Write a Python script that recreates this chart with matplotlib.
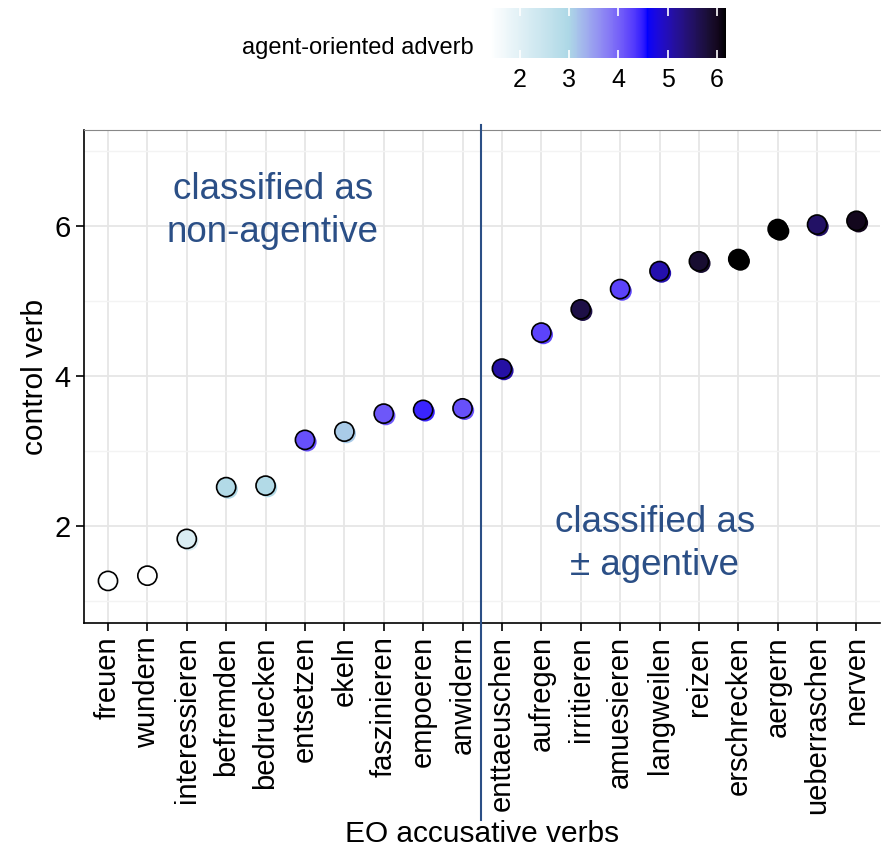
import matplotlib
matplotlib.use("Agg")
import matplotlib.pyplot as plt
import matplotlib.transforms as mtransforms
from matplotlib.colors import ListedColormap, Normalize, to_rgb
import numpy as np

plt.rcParams['font.family'] = ['Liberation Sans', 'DejaVu Sans']

verbs = ["freuen", "wundern", "interessieren", "befremden", "bedruecken",
         "entsetzen", "ekeln", "faszinieren", "empoeren", "anwidern",
         "enttaeuschen", "aufregen", "irritieren", "amuesieren", "langweilen",
         "reizen", "erschrecken", "aergern", "ueberraschen", "nerven"]
control = [1.27, 1.34, 1.83, 2.52, 2.54, 3.15, 3.26, 3.50, 3.55, 3.57,
           4.10, 4.58, 4.89, 5.16, 5.40, 5.53, 5.56, 5.96, 6.02, 6.07]
adverb = [1.45, 1.39, 2.15, 2.90, 2.90, 4.15, 3.10, 4.10, 4.45, 4.15,
          5.10, 4.25, 5.70, 4.25, 5.05, 5.85, 6.18, 6.18, 5.50, 6.00]

ramp = ["white", "lightblue", "blue", "black"]


# ggplot-like gradient: interpolate in CIELAB
def to_lab(c):
    rgb = np.array(to_rgb(c))
    lin = np.where(rgb <= 0.04045, rgb / 12.92, ((rgb + 0.055) / 1.055) ** 2.4)
    m = np.array([[0.4124, 0.3576, 0.1805],
                  [0.2126, 0.7152, 0.0722],
                  [0.0193, 0.1192, 0.9505]])
    xyz = m @ lin / np.array([0.95047, 1.0, 1.08883])
    f = np.where(xyz > 0.008856, np.cbrt(xyz), 7.787 * xyz + 16 / 116)
    return np.array([116 * f[1] - 16, 500 * (f[0] - f[1]), 200 * (f[1] - f[2])])


def from_lab(lab):
    fy = (lab[0] + 16) / 116
    fx = fy + lab[1] / 500
    fz = fy - lab[2] / 200
    f = np.array([fx, fy, fz])
    xyz = np.where(f ** 3 > 0.008856, f ** 3, (f - 16 / 116) / 7.787)
    xyz = xyz * np.array([0.95047, 1.0, 1.08883])
    minv = np.array([[3.2406, -1.5372, -0.4986],
                     [-0.9689, 1.8758, 0.0415],
                     [0.0557, -0.2040, 1.0570]])
    lin = minv @ xyz
    lin = np.clip(lin, 0, 1)
    rgb = np.where(lin <= 0.0031308, 12.92 * lin, 1.055 * lin ** (1 / 2.4) - 0.055)
    return np.clip(rgb, 0, 1)


labs = [to_lab(c) for c in ramp]
cols = []
for t in np.linspace(0, 1, 256):
    seg = min(int(t * 3), 2)
    u = t * 3 - seg
    cols.append(from_lab(labs[seg] * (1 - u) + labs[seg + 1] * u))
cmap = ListedColormap(cols)
norm = Normalize(vmin=min(adverb), vmax=max(adverb))

fig = plt.figure(figsize=(8.81, 8.51), dpi=100)
ax = fig.add_axes([0.0953, 0.268, 0.9037, 0.5792])

x = np.arange(len(verbs))
colors = cmap(norm(adverb))

# coloured shadow beneath each point
shadow = ax.transData + mtransforms.ScaledTranslation(1.5 / 72, -1.5 / 72, fig.dpi_scale_trans)
ax.scatter(x, control, s=190, c=colors, edgecolors='none', transform=shadow, zorder=3)
sc = ax.scatter(x, control, s=190, c=adverb, cmap=cmap, norm=norm,
                edgecolors='black', linewidths=1.2, zorder=4)

ax.set_xlim(-0.61, 19.6)
ax.set_ylim(0.71, 7.28)
ax.set_yticks([2, 4, 6])
ax.set_yticks([1, 3, 5, 7], minor=True)
ax.set_xticks(x)
ax.set_xticklabels(verbs, rotation=90)
ax.tick_params(axis='both', labelsize=21, length=6, width=1.2, color='black')
ax.tick_params(axis='y', which='minor', length=0)
ax.grid(True, which='major', color='#e6e6e6', lw=1.3)
ax.grid(True, which='minor', axis='y', color='#f3f3f3', lw=1.0)
ax.set_axisbelow(True)
ax.spines['right'].set_visible(False)
ax.spines['top'].set_color('#888888')
ax.spines['left'].set_linewidth(1.2)
ax.spines['bottom'].set_linewidth(1.2)
ax.set_xlabel("EO accusative verbs", fontsize=21.5, labelpad=4)
ax.set_ylabel("control verb", fontsize=21.5, labelpad=4)

# divider between the two classes, running down into the label area
divider = mtransforms.blended_transform_factory(ax.transData, ax.transAxes)
ax.plot([9.47, 9.47], [-0.40, 1.01], color='#2b4f86', lw=1.5,
        transform=divider, clip_on=False, zorder=5)

ax.text(4.19, 6.2, "classified as\nnon-agentive", color='#2b4f86', fontsize=26.5,
        ha='center', va='center', linespacing=1.3)
ax.text(13.88, 1.76, "classified as\n\u00b1 agentive", color='#2b4f86', fontsize=26.5,
        ha='center', va='center', linespacing=1.3)

cax = fig.add_axes([0.556, 0.932, 0.268, 0.059])
cb = fig.colorbar(sc, cax=cax, orientation='horizontal')
cb.set_ticks([2, 3, 4, 5, 6])
cb.outline.set_visible(False)
cax.tick_params(direction='in', color='white', length=6, width=1.2,
                top=True, bottom=True, labelsize=18, pad=7)
fig.text(474 / 881, 1 - 48 / 851, "agent-oriented adverb", fontsize=17,
         ha='right', va='center')

plt.savefig("out.png", dpi=100)
plt.close()
